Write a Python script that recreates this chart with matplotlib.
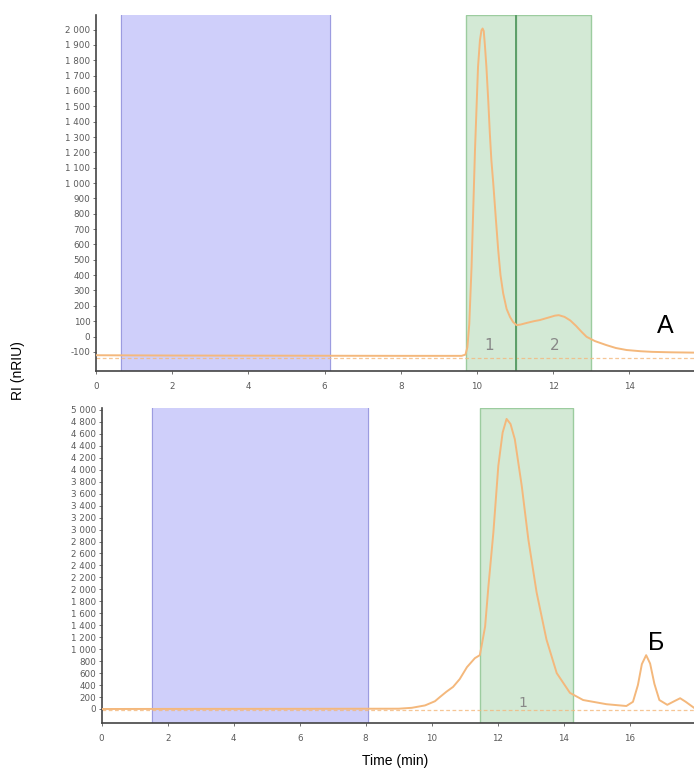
import matplotlib.pyplot as plt

# --- Chromatogram A ---
time_a = [0.0, 2.0, 5.0, 8.0, 9.6, 9.7, 9.75, 9.8, 9.86, 9.95, 10.03, 10.08,
          10.12, 10.15, 10.18, 10.21, 10.25, 10.3, 10.34, 10.38, 10.43, 10.5,
          10.56, 10.62, 10.69, 10.78, 10.87, 10.95, 11.04, 11.15, 11.3, 11.5,
          11.65, 11.9, 12.05, 12.15, 12.3, 12.45, 12.6, 12.75, 12.88, 13.1,
          13.4, 13.65, 13.93, 14.3, 14.6, 15.1, 15.7]
signal_a = [-122, -124, -125, -126, -126, -118, -70, 80, 453, 1213, 1757, 1930,
            1995, 2007, 1990, 1900, 1757, 1530, 1324, 1150, 998, 760,
            563, 400, 282, 180, 127, 95, 74, 78, 88, 100,
            107, 125, 136, 139, 128, 105, 70, 30, -2, -30,
            -56, -75, -88, -96, -100, -103, -105]
blue_a = (0.66, 6.14)
green_a = [(9.71, 11.02), (11.02, 12.99)]
split_a = 11.02
fraction_labels_a = [("1", 10.32), ("2", 12.05)]

# --- Chromatogram Б ---
time_b = [0.0, 3.0, 6.0, 9.0, 9.4, 9.8, 10.1, 10.25, 10.45, 10.65, 10.85,
          11.07, 11.31, 11.46, 11.51, 11.62, 11.72, 11.87, 12.02, 12.15,
          12.27, 12.39, 12.52, 12.73, 12.93, 13.18, 13.48, 13.79, 14.19,
          14.59, 15.3, 15.9, 16.1, 16.25, 16.37, 16.5, 16.62, 16.75, 16.9,
          17.14, 17.35, 17.53, 17.7, 17.95]
signal_b = [0, 2, 3, 5, 20, 60, 130, 200, 290, 370, 500,
            700, 850, 900, 1045, 1380, 2050, 2950, 4065, 4620,
            4850, 4765, 4510, 3730, 2835, 1950, 1160, 600, 270,
            150, 80, 50, 120, 400, 750, 900, 760, 420, 150,
            70, 130, 180, 120, 20]
blue_b = (1.52, 8.07)
green_b = [(11.46, 14.28)]
fraction_labels_b = [("1", 12.75)]

yticks_a = list(range(-100, 2001, 100))
yticks_b = list(range(0, 5001, 200))
xticks_a = list(range(0, 15, 2))
xticks_b = list(range(0, 17, 2))

LINE = "#f4b87c"
BLUE_FILL = "#cfcffa"
BLUE_EDGE = "#7a7ad0"
GREEN_FILL = "#d3e9d5"
GREEN_EDGE = "#9ccc9f"


def fmt(v):
    return f"{v:,}".replace(",", " ")


def style(ax, xticks, yticks):
    for s in ("top", "right"):
        ax.spines[s].set_visible(False)
    for s in ("left", "bottom"):
        ax.spines[s].set_color("#444444")
        ax.spines[s].set_linewidth(1.2)
    ax.set_xticks(xticks)
    ax.set_xticklabels([str(t) for t in xticks])
    ax.set_yticks(yticks)
    ax.set_yticklabels([fmt(t) for t in yticks])
    ax.tick_params(labelsize=6.3, colors="#5a5a5a", length=2, width=0.6, pad=2)
    ax.tick_params(axis="x", pad=6)


def draw(ax, t, y, blue, greens, base):
    ax.axvspan(*blue, color=BLUE_FILL, zorder=0)
    for x in blue:
        ax.axvline(x, color=BLUE_EDGE, lw=0.8, alpha=0.6, zorder=1)
    for g in greens:
        ax.axvspan(*g, facecolor=GREEN_FILL, edgecolor=GREEN_EDGE, lw=1.0, zorder=0)
    ax.axhline(base, color=LINE, lw=0.9, ls=(0, (3, 2)), alpha=0.8, zorder=2)
    ax.plot(t, y, color=LINE, lw=1.4, zorder=3, solid_joinstyle="round")


fig = plt.figure(figsize=(6.94, 7.73), dpi=100)

ax1 = fig.add_axes([0.1383, 0.520, 0.8617, 0.4606])
draw(ax1, time_a, signal_a, blue_a, green_a, -140)
ax1.axvline(split_a, color="#5c9e68", lw=1.4, zorder=2)
ax1.set_xlim(0, 15.7)
ax1.set_ylim(-225, 2095)
style(ax1, xticks_a, yticks_a)
for txt, x in fraction_labels_a:
    ax1.text(x, -105, txt, color="#888888", fontsize=11, ha="center", va="bottom")
ax1.text(14.95, -10, "А", fontsize=18, ha="center", va="bottom",
         family="Liberation Sans")

ax2 = fig.add_axes([0.1465, 0.065, 0.8535, 0.407])
draw(ax2, time_b, signal_b, blue_b, green_b, -20)
ax2.set_xlim(0, 17.95)
ax2.set_ylim(-230, 5030)
style(ax2, xticks_b, yticks_b)
for txt, x in fraction_labels_b:
    ax2.text(x, -20, txt, color="#888888", fontsize=10, ha="center", va="bottom")
ax2.text(16.8, 900, "Б", fontsize=18, ha="center", va="bottom",
         family="Liberation Sans")

fig.text(0.57, 0.016, "Time (min)", fontsize=10, ha="center", va="center",
         family="Liberation Sans")
fig.text(0.026, 0.52, "RI (nRIU)", fontsize=10, ha="center", va="center",
         rotation=90, family="Liberation Sans")

fig.savefig("out.png", dpi=100)
